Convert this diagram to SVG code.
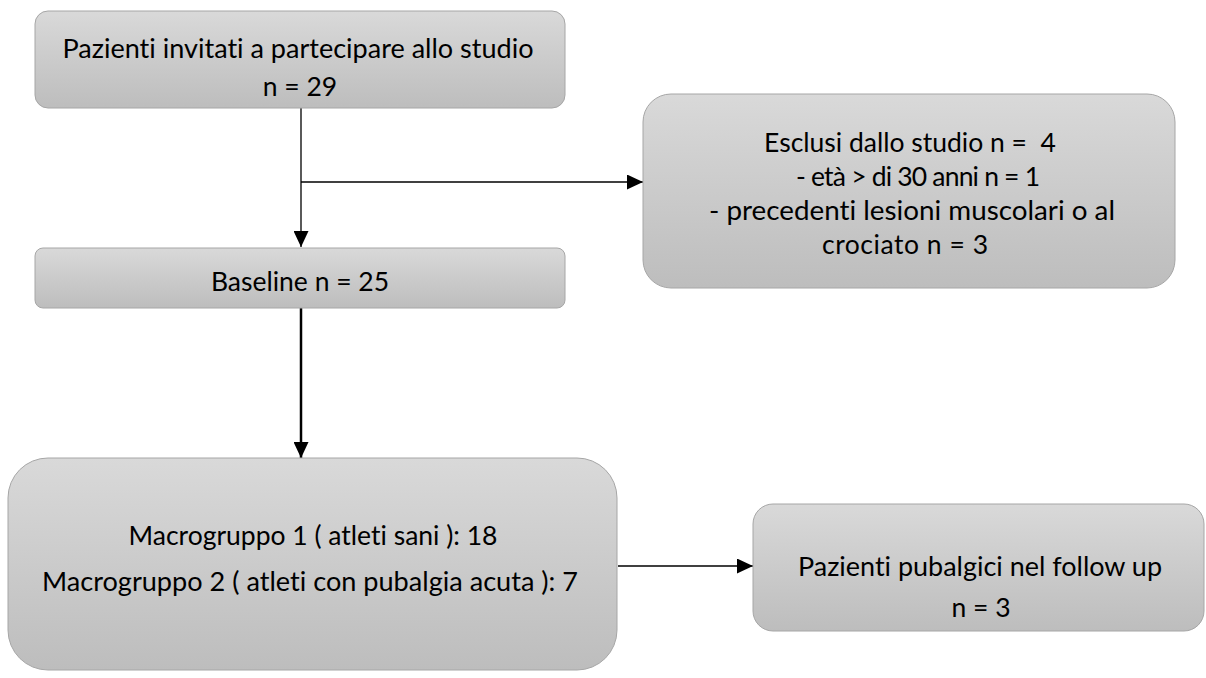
<svg xmlns="http://www.w3.org/2000/svg" width="1206" height="678" viewBox="0 0 1206 678">
<defs>
<linearGradient id="g" x1="0" y1="0" x2="0" y2="1">
<stop offset="0" stop-color="#d9d9d9"/>
<stop offset="1" stop-color="#bdbdbd"/>
</linearGradient>
<marker id="ah" viewBox="0 0 16 15" refX="16" refY="7.5" markerWidth="16" markerHeight="15" markerUnits="userSpaceOnUse" orient="auto">
<path d="M0,0 L16,7.5 L0,15 z" fill="#000"/>
</marker>
</defs>
<style>
.box{fill:url(#g);stroke:#a6a6a6;stroke-width:1}
.t{font-family:Lato,"Open Sans","Liberation Sans",sans-serif;font-size:26.5px;fill:#000;text-anchor:middle;font-variant-ligatures:none;font-feature-settings:"liga" 0}
.c{stroke:#000;stroke-width:1.3;fill:none}
.c2{stroke:#000;stroke-width:2.5;fill:none}
</style>
<rect width="1206" height="678" fill="#fff"/>
<g id="connectors">
<line class="c" x1="301" y1="108" x2="301" y2="247" marker-end="url(#ah)"/>
<line class="c" x1="301" y1="182" x2="643" y2="182" marker-end="url(#ah)"/>
<line class="c2" x1="301" y1="308" x2="301" y2="458" marker-end="url(#ah)"/>
<line class="c" x1="618" y1="566" x2="753" y2="566" marker-end="url(#ah)"/>
</g>
<g id="n1">
<rect class="box" x="35" y="11" width="530" height="97" rx="13"/>
<text class="t" x="298" y="58" textLength="471" lengthAdjust="spacingAndGlyphs">Pazienti invitati a partecipare allo studio</text>
<text class="t" x="300" y="96">n = 29</text>
</g>
<g id="n2">
<rect class="box" x="643" y="94" width="532" height="194" rx="28"/>
<text class="t" x="910" y="152" xml:space="preserve">Esclusi dallo studio n =  4</text>
<text class="t" x="918" y="186" textLength="244" lengthAdjust="spacing">- età &gt; di 30 anni n = 1</text>
<text class="t" x="912" y="220" textLength="406" lengthAdjust="spacingAndGlyphs">- precedenti lesioni muscolari o al</text>
<text class="t" x="905" y="254" textLength="166" lengthAdjust="spacing">crociato n = 3</text>
</g>
<g id="n3">
<rect class="box" x="35" y="248" width="530" height="60" rx="8"/>
<text class="t" x="300" y="291">Baseline n = 25</text>
</g>
<g id="n4">
<rect class="box" x="8" y="458" width="609" height="212" rx="40"/>
<text class="t" x="313" y="545">Macrogruppo 1 ( atleti sani ): 18</text>
<text class="t" x="310" y="591" textLength="536" lengthAdjust="spacingAndGlyphs">Macrogruppo 2 ( atleti con pubalgia acuta ): 7</text>
</g>
<g id="n5">
<rect class="box" x="753" y="504" width="451" height="127" rx="20"/>
<text class="t" x="980" y="576" textLength="364" lengthAdjust="spacingAndGlyphs">Pazienti pubalgici nel follow up</text>
<text class="t" x="981" y="617">n = 3</text>
</g>
</svg>
